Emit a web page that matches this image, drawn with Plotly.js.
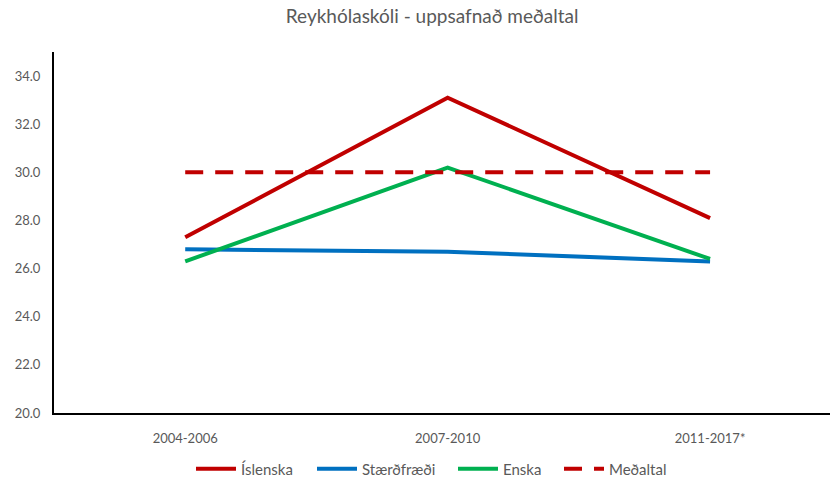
<!DOCTYPE html>
<html>
<head>
<meta charset="utf-8">
<script src="https://cdn.plot.ly/plotly-3.0.1.min.js"></script>
<style>html,body{margin:0;padding:0;background:#fff}#chart{width:831px;height:479px}</style>
</head>
<body>
<div id="chart"></div>
<script>
const categories = ["2004-2006", "2007-2010", "2011-2017*"];
const islenska = [27.3, 33.1, 28.1];
const staerdfraedi = [26.8, 26.7, 26.3];
const enska = [26.3, 30.2, 26.4];
const medaltal = [30.0, 30.0, 30.0];
const yTicks = [20, 22, 24, 26, 28, 30, 32, 34];
const seriesNames = ["Íslenska", "Stærðfræði", "Enska", "Meðaltal"];

const W = 831, H = 479;
const font = "Lato, 'Open Sans', sans-serif";
const legendIds = ["legend", "legend2", "legend3", "legend4"];
const legendStartPx = [197, 318, 459, 565];
function tr(i, y, color, dash) {
  return {x: categories, y: y, name: seriesNames[i], type: "scatter", mode: "lines",
    legend: legendIds[i],
    line: {color: color, width: 4, dash: dash || "solid"}};
}
const data = [
  tr(0, islenska, "#C00000"),
  tr(1, staerdfraedi, "#0070C0"),
  tr(2, enska, "#00B050"),
  tr(3, medaltal, "#C00000", "18px,12px")
];
const layout = {
  width: W, height: H,
  margin: {l: 54, r: 1, t: 52, b: 66},
  paper_bgcolor: "#fff", plot_bgcolor: "#fff",
  font: {family: font, color: "#595959", size: 13},
  title: {text: "Reykhólaskóli - uppsafnað meðaltal", font: {family: font, size: 19, color: "#595959"}, x: 0.52, xanchor: "center", y: 0.965, yanchor: "middle"},
  xaxis: {type: "category", range: [-0.5, 2.457], showgrid: false, zeroline: false,
    showline: true, linecolor: "#000", linewidth: 2, ticks: "", ticklen: 0, ticklabelstandoff: 12,
    tickfont: {family: font, size: 13, color: "#595959"}},
  yaxis: {range: [20, 35], tickvals: yTicks, ticktext: yTicks.map(v => v.toFixed(1)),
    showgrid: false, zeroline: false, showline: true, linecolor: "#000", linewidth: 2,
    ticks: "", ticklabelstandoff: 9, tickfont: {family: font, size: 13, color: "#595959"}},
  showlegend: true
};
legendIds.forEach((id, i) => {
  layout[id] = {orientation: "h", xref: "container", yref: "container",
    x: (legendStartPx[i] - 6) / W, xanchor: "left", y: (H - 469) / H, yanchor: "middle",
    font: {family: font, size: 15, color: "#595959"}, itemwidth: 40, bgcolor: "rgba(0,0,0,0)"};
});
Plotly.newPlot("chart", data, layout, {displayModeBar: false, staticPlot: true});
</script>
</body>
</html>
